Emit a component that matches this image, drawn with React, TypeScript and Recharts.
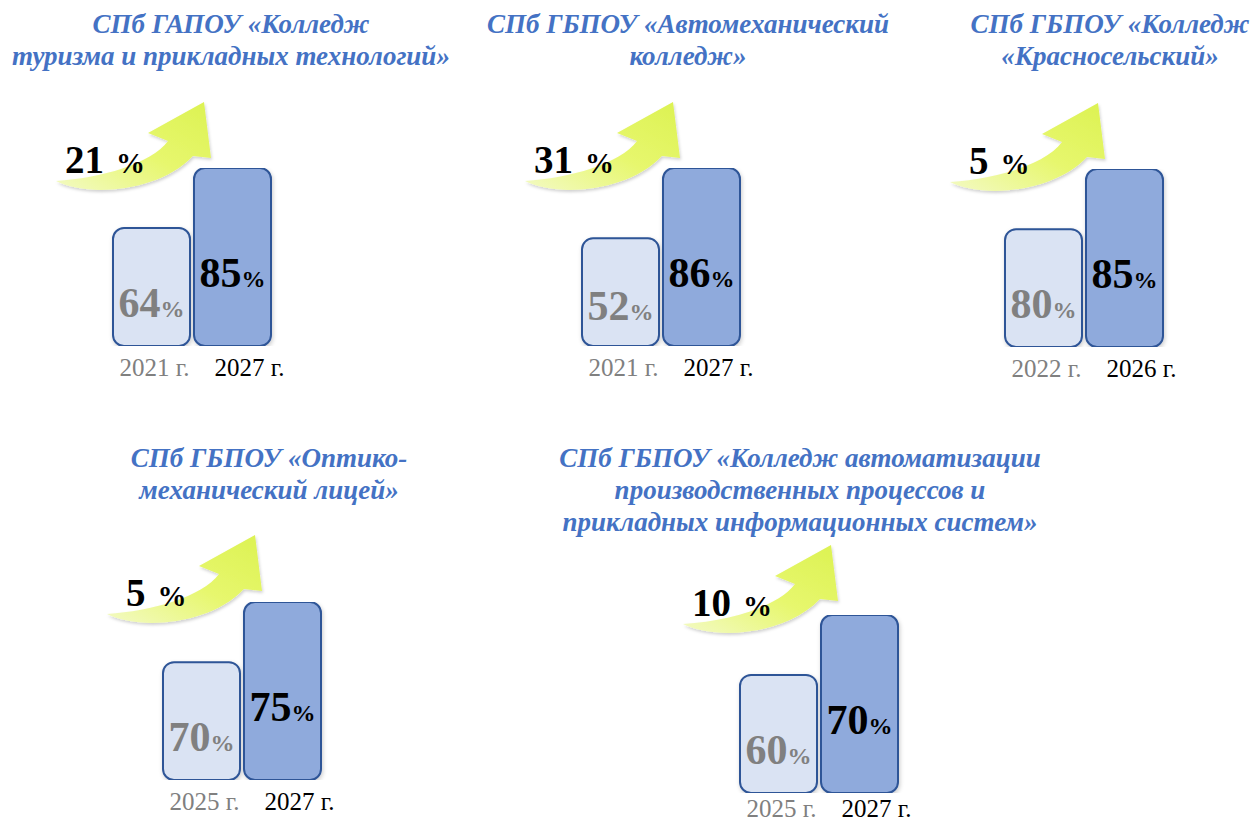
import React from 'react';
import { BarChart, Bar, XAxis, YAxis, Cell, LabelList } from 'recharts';

// college names (title lines)
const colleges = [
  ['СПб ГАПОУ «Колледж', 'туризма и прикладных технологий»'],
  ['СПб ГБПОУ «Автомеханический', 'колледж»'],
  ['СПб ГБПОУ «Колледж', '«Красносельский»'],
  ['СПб ГБПОУ «Оптико-', 'механический лицей»'],
  ['СПб ГБПОУ «Колледж автоматизации', 'производственных процессов и', 'прикладных информационных систем»'],
];
const startYears = ['2021', '2021', '2022', '2025', '2025'];
const targetYears = ['2027', '2027', '2026', '2027', '2027'];
const startValues = [64, 52, 80, 70, 60];
const targetValues = [85, 86, 85, 75, 70];
const growthValues = [21, 31, 5, 5, 10];

// where each little chart sits on the page
const panels = [
  { barX: 113, top: 168, yMin: 22.7, yearGap: 30, titleX: 231, titleY: 33, arrowX: 56, arrowY: 102 },
  { barX: 582, top: 168, yMin: 0, yearGap: 30, titleX: 688, titleY: 33, arrowX: 525, arrowY: 102 },
  { barX: 1005, top: 169, yMin: 70.2, yearGap: 30, titleX: 1110, titleY: 33, arrowX: 950, arrowY: 103 },
  { barX: 163, top: 602, yMin: 60.2, yearGap: 30, titleX: 269, titleY: 467, arrowX: 107, arrowY: 535 },
  { barX: 740, top: 615, yMin: 40.3, yearGap: 24, titleX: 800, titleY: 467, arrowX: 683, arrowY: 545 },
];

const SERIF = '"Liberation Serif", "Times New Roman", serif';
const PLOT_H = 178;
const M = 4;
const RIGHT = 44;
const BAND = 81;
const AXIS_H = 50;

const RoundBar = (props: any) => {
  const { x, y, width, height, fill } = props;
  return (
    <rect x={x} y={y} width={width} height={height} rx={11} ry={11}
      fill={fill} stroke="#2F5597" strokeWidth={2} filter="url(#barShadow)" />
  );
};

const GrowthArrow = ({ x, y, value }: { x: number; y: number; value: number }) => (
  <g transform={`translate(${x},${y})`}>
    <path
      d="M0,79 C30,95 102,91 137,54 L155,56 L148,0 L92,31 L112,39 C95,62 45,76 0,79 Z"
      fill="url(#arrowFill)"
      filter="url(#arrowShadow)"
    />
    <text x={value >= 10 ? 9 : 19} y={71} fontFamily={SERIF} fontWeight="bold" fill="#000">
      <tspan fontSize={39}>{value}</tspan>
      <tspan fontSize={29} dx={12}>%</tspan>
    </text>
  </g>
);

const Panel = ({ i }: { i: number }) => {
  const p = panels[i];
  const data = [
    { year: startYears[i], value: startValues[i] },
    { year: targetYears[i], value: targetValues[i] },
  ];
  const colors = ['#DAE3F3', '#8FAADC'];

  const valueLabel = (lp: any) => {
    const { x, y, width, height, value } = lp;
    const first = value === startValues[i];
    return (
      <text x={x + width / 2} y={y + height * (first ? 0.755 : 0.67)} textAnchor="middle"
        fontFamily={SERIF} fontWeight="bold" fill={first ? '#808080' : '#000'}>
        <tspan fontSize={42}>{value}</tspan>
        <tspan fontSize={24}>%</tspan>
      </text>
    );
  };

  const yearTick = (tp: any) => {
    const first = tp.payload.value === startYears[i];
    return (
      <text x={tp.x + (first ? 3 : 17)} y={tp.y + p.yearGap} textAnchor="middle"
        fontFamily={SERIF} fontSize={25} fill={first ? '#808080' : '#000'}>
        {tp.payload.value} г.
      </text>
    );
  };

  return (
    <div style={{ position: 'absolute', left: p.barX - 2 - M, top: p.top - M }}>
      <BarChart
        width={BAND * 2 + M + RIGHT}
        height={PLOT_H + M + AXIS_H}
        data={data}
        margin={{ top: M, right: RIGHT, left: M, bottom: 0 }}
        barCategoryGap={2}
      >
        <XAxis dataKey="year" axisLine={false} tickLine={false} tickSize={0} tickMargin={0}
          height={AXIS_H} interval={0} tick={yearTick} />
        <YAxis hide type="number" domain={[p.yMin, targetValues[i]]} allowDataOverflow />
        <Bar dataKey="value" shape={RoundBar} isAnimationActive={false}>
          {data.map((d, k) => (
            <Cell key={d.year} fill={colors[k]} />
          ))}
          <LabelList dataKey="value" content={valueLabel} />
        </Bar>
      </BarChart>
    </div>
  );
};

export default function App() {
  return (
    <div style={{ position: 'absolute', left: 0, top: 0, width: 1253, height: 825, overflow: 'hidden', background: '#fff' }}>
      <svg width={1253} height={825} style={{ position: 'absolute', left: 0, top: 0 }}>
        <defs>
          <linearGradient id="arrowFill" x1="0" y1="1" x2="1" y2="0">
            <stop offset="0%" stopColor="#F3FAC4" />
            <stop offset="50%" stopColor="#E7F76E" />
            <stop offset="100%" stopColor="#DCF252" />
          </linearGradient>
          <filter id="arrowShadow" x="-10%" y="-10%" width="130%" height="140%">
            <feDropShadow dx="1" dy="2" stdDeviation="1.5" floodColor="#000" floodOpacity="0.18" />
          </filter>
          <filter id="barShadow" x="-15%" y="-15%" width="140%" height="135%">
            <feDropShadow dx="1" dy="2" stdDeviation="2" floodColor="#000" floodOpacity="0.2" />
          </filter>
        </defs>
        {panels.map((p, i) => (
          <g key={i}>
            <text textAnchor="middle" fontFamily={SERIF} fontWeight="bold" fontStyle="italic"
              fontSize={27} fill="#4472C4">
              {colleges[i].map((line, k) => (
                <tspan key={k} x={p.titleX} y={p.titleY + k * 32}>{line}</tspan>
              ))}
            </text>
            <GrowthArrow x={p.arrowX} y={p.arrowY} value={growthValues[i]} />
          </g>
        ))}
      </svg>
      {panels.map((_, i) => (
        <Panel key={i} i={i} />
      ))}
    </div>
  );
}
